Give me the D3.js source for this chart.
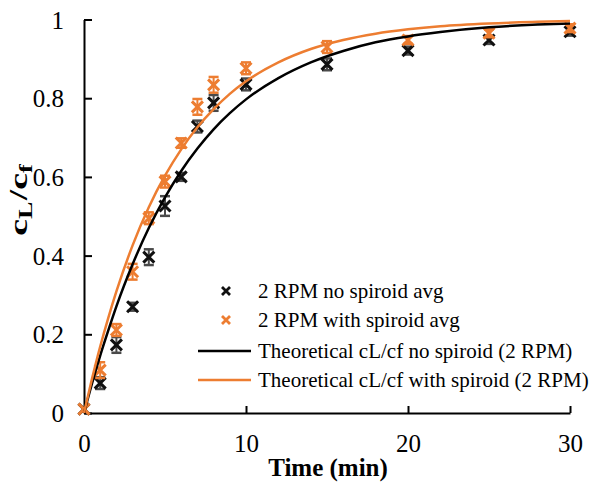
<!DOCTYPE html>
<html>
<head>
<meta charset="utf-8">
<script src="https://cdn.jsdelivr.net/npm/d3@7"></script>
<style>
  html, body { margin: 0; padding: 0; background: #fff; }
  svg { display: block; }
  text { font-family: "Liberation Serif", "Times New Roman", serif; fill: #000; }
</style>
</head>
<body>
<svg id="chart" width="594" height="489"></svg>
<script>
// Sampling times (min)
const times = [0, 1, 2, 3, 4, 5, 6, 7, 8, 10, 15, 20, 25, 30];

// Measured cL/cf, 2 RPM without spiroid (mean and error)
const noSpiroidAvg = [0.01, 0.076, 0.173, 0.27, 0.396, 0.526, 0.60, 0.728, 0.788, 0.835, 0.886, 0.921, 0.948, 0.969];
const noSpiroidErr = [0, 0.015, 0.02, 0.01, 0.02, 0.025, 0.01, 0.015, 0.02, 0.015, 0.015, 0.01, 0.01, 0.01];

// Measured cL/cf, 2 RPM with spiroid (mean and error)
const withSpiroidAvg = [0.01, 0.109, 0.211, 0.359, 0.495, 0.588, 0.686, 0.778, 0.834, 0.876, 0.930, 0.948, 0.965, 0.978];
const withSpiroidErr = [0, 0.02, 0.015, 0.02, 0.015, 0.015, 0.012, 0.02, 0.02, 0.015, 0.015, 0.01, 0.01, 0.01];

// Theoretical curves
const theoryTimes = [0, 0.5, 1, 1.5, 2, 3, 4, 5, 6, 7, 8, 9, 10, 12, 14, 16, 18, 20, 22, 25, 28, 30];
const theoryNoSpiroid = [0, 0.076, 0.146, 0.210, 0.271, 0.378, 0.470, 0.548, 0.615, 0.672, 0.721, 0.762, 0.797, 0.851, 0.891, 0.920, 0.942, 0.957, 0.968, 0.980, 0.987, 0.990];
const theoryWithSpiroid = [0, 0.088, 0.169, 0.242, 0.309, 0.426, 0.523, 0.603, 0.670, 0.726, 0.772, 0.811, 0.843, 0.891, 0.925, 0.948, 0.964, 0.975, 0.983, 0.990, 0.994, 0.996];

// Axis ticks
const xTicks = [0, 10, 20, 30];
const yTicks = [0, 0.2, 0.4, 0.6, 0.8, 1];

const legendLabels = [
  "2 RPM no spiroid avg",
  "2 RPM with spiroid avg",
  "Theoretical cL/cf no spiroid (2 RPM)",
  "Theoretical cL/cf with spiroid (2 RPM)"
];

const BLACK = "#000000";
const ORANGE = "#ED7D31";

const svg = d3.select("#chart");

const x = d3.scaleLinear().domain([0, 30]).range([84, 570]);
const y = d3.scaleLinear().domain([0, 1]).range([413, 19.5]);

// Axes with inward ticks
const xAxis = d3.axisBottom(x).tickValues(xTicks).tickSizeInner(-7).tickSizeOuter(0).tickFormat(d3.format("d"));
const yAxis = d3.axisLeft(y).tickValues(yTicks).tickSizeInner(-8).tickSizeOuter(0).tickFormat(d => d === 0 ? "0" : d === 1 ? "1" : d3.format(".1f")(d));

const gx = svg.append("g").attr("transform", `translate(0,${y(0)})`).call(xAxis);
const gy = svg.append("g").attr("transform", `translate(${x(0)},0)`).call(yAxis);

[gx, gy].forEach(g => {
  g.select(".domain").attr("stroke", BLACK).attr("stroke-width", 2);
  g.selectAll(".tick line").attr("stroke", BLACK).attr("stroke-width", 2);
  g.selectAll(".tick text")
    .attr("font-family", "Liberation Serif, Times New Roman, serif")
    .attr("font-size", 25)
    .attr("fill", BLACK);
});
gx.selectAll(".tick text").attr("dy", null).attr("y", 39);
gy.selectAll(".tick text").attr("x", -20).attr("dy", "0.34em");

// Axis titles
svg.append("text")
  .attr("x", 328).attr("y", 476)
  .attr("text-anchor", "middle")
  .attr("font-size", 25).attr("font-weight", "bold")
  .text("Time (min)");

const yTitle = svg.append("text")
  .attr("transform", "translate(27,200) rotate(-90) scale(1.45,1)")
  .attr("text-anchor", "middle")
  .attr("font-size", 26).attr("font-weight", "bold");
yTitle.append("tspan").text("c");
yTitle.append("tspan").attr("font-size", 18).attr("dy", 5).text("L");
yTitle.append("tspan").attr("dy", -5).attr("dx", 1).text("/c");
yTitle.append("tspan").attr("font-size", 18).attr("dy", 5).text("f");

// X-shaped marker path
const xMarker = h => `M${-h},${-h}L${h},${h}M${-h},${h}L${h},${-h}`;

function drawSeries(avg, err, color, barColor) {
  const g = svg.append("g");
  const pts = times.map((t, i) => ({ t, v: avg[i], e: err[i] }));
  const cap = 5;
  const bars = g.selectAll("g.err").data(pts.filter(d => d.e > 0)).join("g");
  bars.append("line")
    .attr("x1", d => x(d.t)).attr("x2", d => x(d.t))
    .attr("y1", d => y(d.v - d.e)).attr("y2", d => y(d.v + d.e))
    .attr("stroke", barColor).attr("stroke-width", 2);
  bars.append("line")
    .attr("x1", d => x(d.t) - cap).attr("x2", d => x(d.t) + cap)
    .attr("y1", d => y(d.v + d.e)).attr("y2", d => y(d.v + d.e))
    .attr("stroke", barColor).attr("stroke-width", 2.5);
  bars.append("line")
    .attr("x1", d => x(d.t) - cap).attr("x2", d => x(d.t) + cap)
    .attr("y1", d => y(d.v - d.e)).attr("y2", d => y(d.v - d.e))
    .attr("stroke", barColor).attr("stroke-width", 2.5);
  g.selectAll("path.mk").data(pts).join("path")
    .attr("transform", d => `translate(${x(d.t)},${y(d.v)})`)
    .attr("d", xMarker(5.5))
    .attr("fill", "none").attr("stroke", color).attr("stroke-width", 3);
}

drawSeries(noSpiroidAvg, noSpiroidErr, "#111", "#4a4a4a");
drawSeries(withSpiroidAvg, withSpiroidErr, ORANGE, ORANGE);

// Theoretical curves
const line = d3.line().x(d => x(d[0])).y(d => y(d[1])).curve(d3.curveMonotoneX);
svg.append("path")
  .datum(theoryTimes.map((t, i) => [t, theoryNoSpiroid[i]]))
  .attr("d", line).attr("fill", "none").attr("stroke", BLACK).attr("stroke-width", 2.5);
svg.append("path")
  .datum(theoryTimes.map((t, i) => [t, theoryWithSpiroid[i]]))
  .attr("d", line).attr("fill", "none").attr("stroke", ORANGE).attr("stroke-width", 2.5);

// Legend
const legend = svg.append("g");
const rowY = [291, 320, 351, 380];
legend.append("path").attr("transform", `translate(226,${rowY[0]})`).attr("d", xMarker(4))
  .attr("stroke", "#111").attr("stroke-width", 2.8).attr("fill", "none");
legend.append("path").attr("transform", `translate(226,${rowY[1]})`).attr("d", xMarker(4))
  .attr("stroke", ORANGE).attr("stroke-width", 2.8).attr("fill", "none");
legend.append("line").attr("x1", 198).attr("x2", 251).attr("y1", rowY[2]).attr("y2", rowY[2])
  .attr("stroke", BLACK).attr("stroke-width", 2.5);
legend.append("line").attr("x1", 198).attr("x2", 251).attr("y1", rowY[3]).attr("y2", rowY[3])
  .attr("stroke", ORANGE).attr("stroke-width", 2.5);
legend.selectAll("text.lab").data(legendLabels).join("text")
  .attr("x", 258).attr("y", (d, i) => rowY[i]).attr("dy", "0.33em")
  .attr("font-size", 21)
  .text(d => d);
</script>
</body>
</html>
